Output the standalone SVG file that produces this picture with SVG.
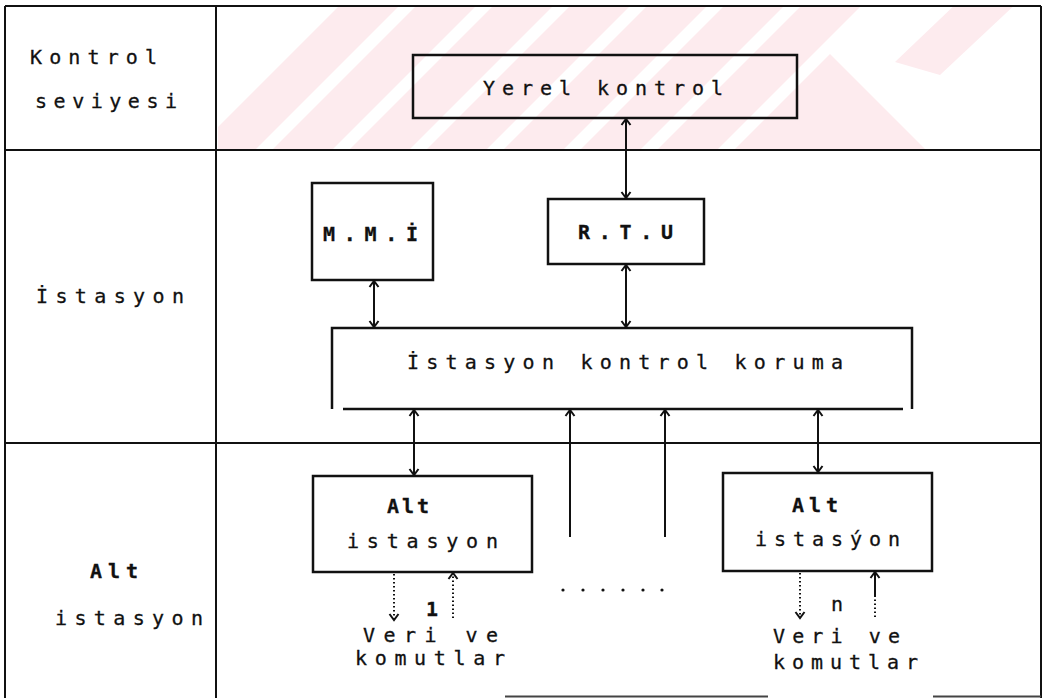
<svg xmlns="http://www.w3.org/2000/svg" width="1047" height="698" viewBox="0 0 1047 698">
<style>
.frame{stroke:#111;stroke-width:2;fill:none}
.box{stroke:#111;stroke-width:2.5;fill:none}
.t{font-family:"DejaVu Sans Mono","Liberation Mono",monospace;font-size:20px;fill:#111;stroke:#111;stroke-width:0.3}
.b{font-weight:bold}
.c{stroke:#111;stroke-width:2;fill:none}
.d{stroke:#111;stroke-width:2;fill:none;stroke-dasharray:1.5 2.5}
.wm{fill:#fdebee}
</style>
<defs>
<marker id="ah" viewBox="-8 -6 10 12" refX="0" refY="0" markerWidth="10" markerHeight="12" markerUnits="userSpaceOnUse" orient="auto-start-reverse">
<path d="M-6,-4.5 L0,0 L-6,4.5" stroke="#111" stroke-width="2" fill="none"/>
</marker>
<clipPath id="wmclip"><rect x="218" y="7" width="822" height="142"/></clipPath>
</defs>
<rect width="1047" height="698" fill="#fff"/>
<g id="watermark" clip-path="url(#wmclip)">
<polygon class="wm" points="195,150 345,0 405,0 255,150"/>
<polygon class="wm" points="272,150 422,0 482,0 332,150"/>
<polygon class="wm" points="349,150 499,0 559,0 409,150"/>
<polygon class="wm" points="426,150 576,0 636,0 486,150"/>
<polygon class="wm" points="503,150 653,0 713,0 563,150"/>
<polygon class="wm" points="580,150 730,0 790,0 640,150"/>
<polygon class="wm" points="657,150 807,0 867,0 717,150"/>
<polygon class="wm" points="734,150 830,54 926,150"/>
<polygon class="wm" points="895,62 960,0 1020,0 940,75"/>
</g>
<g id="grid">
<line class="frame" x1="5" y1="6" x2="1041" y2="6"/>
<line class="frame" x1="5" y1="6" x2="5" y2="698"/>
<line class="frame" x1="1041" y1="6" x2="1041" y2="698"/>
<line class="frame" x1="216" y1="6" x2="216" y2="698"/>
<line class="frame" x1="5" y1="150" x2="1041" y2="150"/>
<line class="frame" x1="5" y1="443" x2="1041" y2="443"/>
<line x1="505" y1="696.5" x2="768" y2="696.5" stroke="#444" stroke-width="2"/>
<line x1="933" y1="696.5" x2="1041" y2="696.5" stroke="#444" stroke-width="2"/>
</g>
<g id="lbl-kontrol">
<text class="t" x="30" y="64" textLength="127" lengthAdjust="spacing">Kontrol</text>
<text class="t" x="35" y="108" textLength="142" lengthAdjust="spacing">seviyesi</text>
</g>
<g id="lbl-istasyon">
<text class="t" x="36" y="303" textLength="148" lengthAdjust="spacing">İstasyon</text>
</g>
<g id="lbl-alt">
<text class="t b" x="90" y="578" textLength="48" lengthAdjust="spacing">Alt</text>
<text class="t" x="55" y="625" textLength="148" lengthAdjust="spacing">istasyon</text>
</g>
<g id="yerel">
<rect class="box" x="413" y="55" width="384" height="63"/>
<text class="t" x="483" y="95" textLength="240" lengthAdjust="spacing">Yerel kontrol</text>
</g>
<g id="mmi">
<rect class="box" x="312" y="183" width="121" height="97"/>
<text class="t b" x="323" y="241" textLength="95" lengthAdjust="spacing">M.M.İ</text>
</g>
<g id="rtu">
<rect class="box" x="548" y="199" width="156" height="65"/>
<text class="t b" x="578" y="239" textLength="95" lengthAdjust="spacing">R.T.U</text>
</g>
<g id="iskk">
<path class="box" d="M332,409 V328 H912 V409"/>
<line class="box" x1="343" y1="409" x2="903" y2="409"/>
<text class="t" x="407" y="369" textLength="436" lengthAdjust="spacing">İstasyon kontrol koruma</text>
</g>
<g id="alt1">
<rect class="box" x="313" y="476" width="219" height="96"/>
<text class="t b" x="387" y="513" textLength="42" lengthAdjust="spacing">Alt</text>
<text class="t" x="347" y="548" textLength="151" lengthAdjust="spacing">istasyon</text>
</g>
<g id="altn">
<rect class="box" x="723" y="473" width="209" height="98"/>
<text class="t b" x="792" y="512" textLength="46" lengthAdjust="spacing">Alt</text>
<text class="t" x="755" y="546" textLength="145" lengthAdjust="spacing">istasýon</text>
</g>
<g id="io1">
<text class="t b" x="426" y="616">1</text>
<text class="t" x="363" y="642" textLength="135" lengthAdjust="spacing">Veri ve</text>
<text class="t" x="355" y="665" textLength="150" lengthAdjust="spacing">komutlar</text>
</g>
<g id="ion">
<text class="t" x="831" y="611">n</text>
<text class="t" x="773" y="643" textLength="127" lengthAdjust="spacing">Veri ve</text>
<text class="t" x="773" y="669" textLength="145" lengthAdjust="spacing">komutlar</text>
</g>
<g id="dots" fill="#111">
<circle cx="563" cy="590" r="1.6"/>
<circle cx="583" cy="590" r="1.6"/>
<circle cx="603" cy="590" r="1.6"/>
<circle cx="623" cy="590" r="1.6"/>
<circle cx="643" cy="590" r="1.6"/>
<circle cx="662" cy="590" r="1.6"/>
</g>
<g id="connectors">
<line class="c" x1="626" y1="119" x2="626" y2="198" marker-start="url(#ah)" marker-end="url(#ah)"/>
<line class="c" x1="626" y1="265" x2="626" y2="327" marker-start="url(#ah)" marker-end="url(#ah)"/>
<line class="c" x1="374" y1="281" x2="374" y2="327" marker-start="url(#ah)" marker-end="url(#ah)"/>
<line class="c" x1="414" y1="410" x2="414" y2="475" marker-start="url(#ah)" marker-end="url(#ah)"/>
<line class="c" x1="818" y1="410" x2="818" y2="472" marker-start="url(#ah)" marker-end="url(#ah)"/>
<line class="c" x1="570" y1="537" x2="570" y2="410" marker-end="url(#ah)"/>
<line class="c" x1="665" y1="537" x2="665" y2="410" marker-end="url(#ah)"/>
<line class="d" x1="394" y1="574" x2="394" y2="620" marker-end="url(#ah)"/>
<line class="d" x1="453" y1="618" x2="453" y2="573" marker-end="url(#ah)"/>
<line class="d" x1="800" y1="573" x2="800" y2="618" marker-end="url(#ah)"/>
<line class="d" x1="875" y1="617" x2="875" y2="595"/>
<line class="c" x1="875" y1="596" x2="875" y2="572" marker-end="url(#ah)"/>
</g>
</svg>
